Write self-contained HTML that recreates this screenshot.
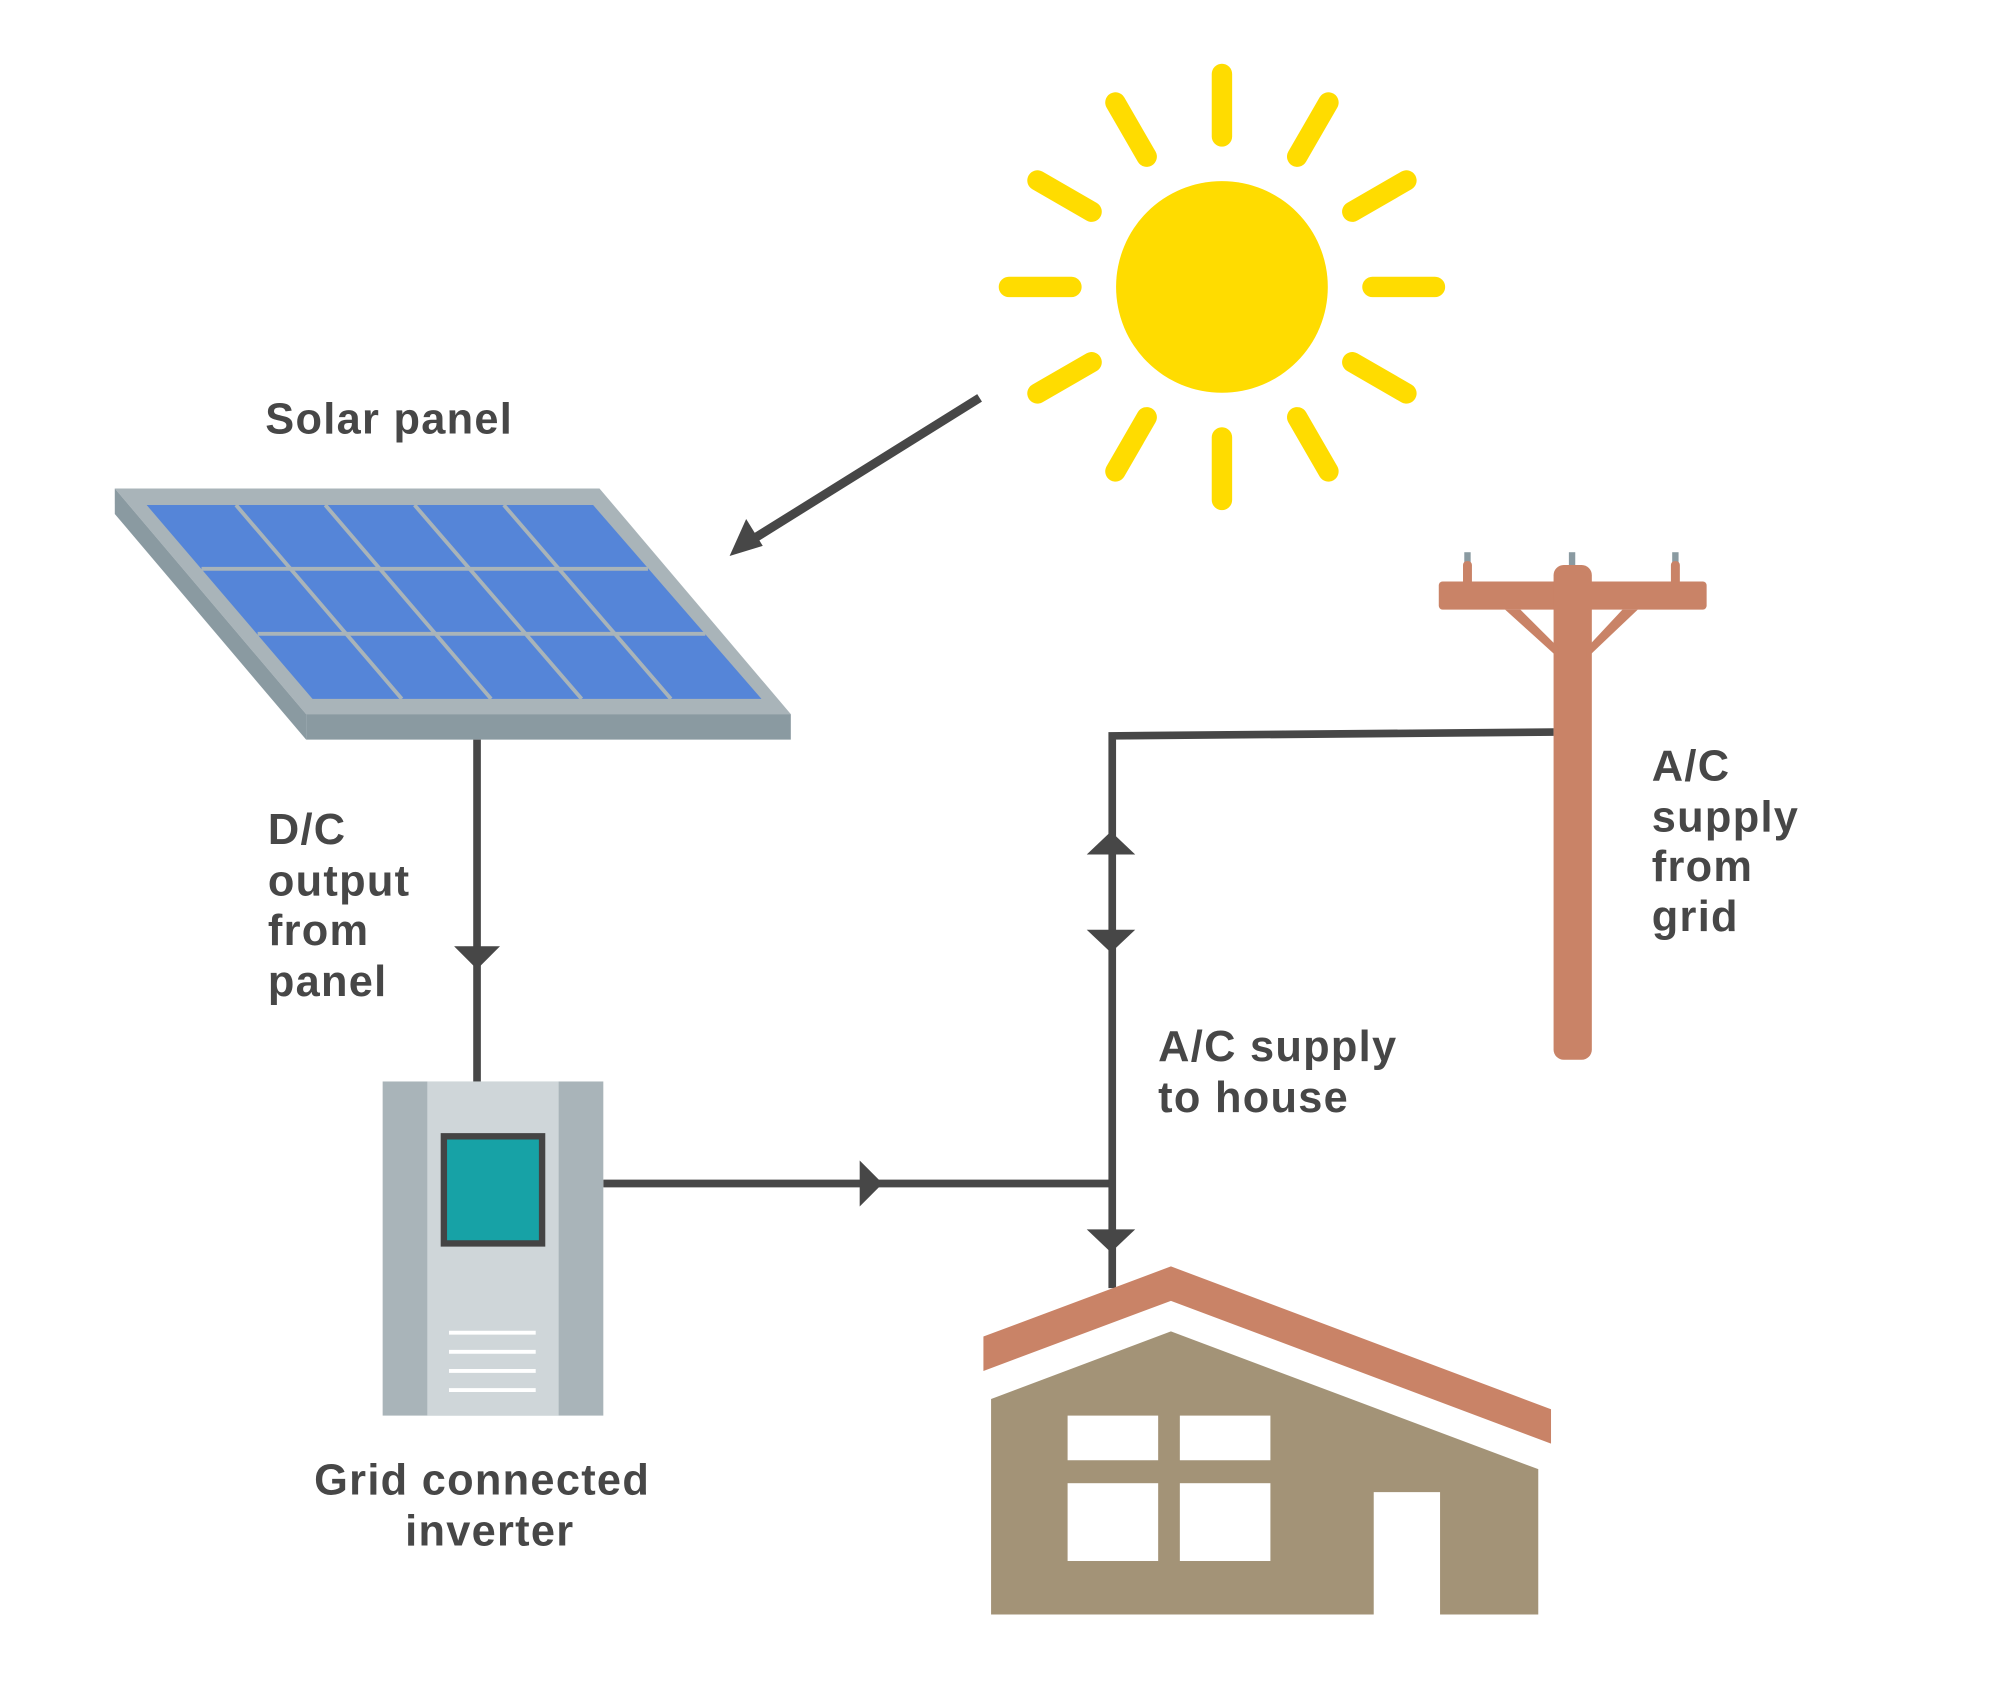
<!DOCTYPE html>
<html><head><meta charset="utf-8"><style>html,body{margin:0;padding:0;background:#fff}svg{display:block}</style></head>
<body>
<svg width="2000" height="1700" viewBox="0 0 1568 1333" preserveAspectRatio="none" xmlns="http://www.w3.org/2000/svg">
<rect width="1568" height="1333" fill="#fff"/>
<g stroke="#FFDC00" stroke-width="16" stroke-linecap="round">
<g transform="translate(958,225)">
<line x1="0" y1="-118" x2="0" y2="-167"/>
<line x1="0" y1="-118" x2="0" y2="-167" transform="rotate(30)"/>
<line x1="0" y1="-118" x2="0" y2="-167" transform="rotate(60)"/>
<line x1="0" y1="-118" x2="0" y2="-167" transform="rotate(90)"/>
<line x1="0" y1="-118" x2="0" y2="-167" transform="rotate(120)"/>
<line x1="0" y1="-118" x2="0" y2="-167" transform="rotate(150)"/>
<line x1="0" y1="-118" x2="0" y2="-167" transform="rotate(180)"/>
<line x1="0" y1="-118" x2="0" y2="-167" transform="rotate(210)"/>
<line x1="0" y1="-118" x2="0" y2="-167" transform="rotate(240)"/>
<line x1="0" y1="-118" x2="0" y2="-167" transform="rotate(270)"/>
<line x1="0" y1="-118" x2="0" y2="-167" transform="rotate(300)"/>
<line x1="0" y1="-118" x2="0" y2="-167" transform="rotate(330)"/>
</g></g>
<circle cx="958" cy="225" r="83" fill="#FFDC00"/>
<line x1="768" y1="312" x2="590" y2="423" stroke="#474747" stroke-width="7"/>
<polygon points="572,436 585,407 598,428" fill="#474747"/>
<g font-family="Liberation Sans, sans-serif" font-weight="bold" font-size="34" letter-spacing="1" fill="#474747">
<text x="208" y="340">Solar panel</text>
<text x="210" y="662">D/C</text><text x="210" y="702">output</text><text x="210" y="741">from</text><text x="210" y="781">panel</text>
<text x="378" y="1172" text-anchor="middle">Grid connected</text>
<text x="384" y="1212" text-anchor="middle">inverter</text>
<text x="908" y="832">A/C supply</text><text x="908" y="872">to house</text>
<text x="1295" y="612">A/C</text><text x="1295" y="652">supply</text><text x="1295" y="691">from</text><text x="1295" y="730">grid</text>
</g>
<polygon points="90,383 470,383 620,560 240,560" fill="#a9b4b9"/>
<polygon points="240,560 620,560 620,580 240,580" fill="#8a9aa1"/>
<polygon points="90,383 90,403 240,580 240,560" fill="#8a9aa1"/>
<polygon points="115,396 465,396 597,548 245,548" fill="#5585d8"/>
<g stroke="#a9b4b9" stroke-width="3">
<line x1="158" y1="446" x2="508" y2="446"/>
<line x1="202" y1="497" x2="553" y2="497"/>
<line x1="185" y1="396" x2="315" y2="548"/>
<line x1="255" y1="396" x2="385" y2="548"/>
<line x1="325" y1="396" x2="456" y2="548"/>
<line x1="395" y1="396" x2="526" y2="548"/>
</g>
<g stroke="#474747" stroke-width="6" fill="none">
<line x1="374" y1="580" x2="374" y2="848"/>
<line x1="473" y1="928" x2="872" y2="928"/>
<polyline points="872,1010 872,577 1218,574"/>
</g>
<g fill="#474747">
<polygon points="356,742 392,742 374,760"/>
<polygon points="674,910 674,946 692,928"/>
<polygon points="852,670 890,670 871,652"/>
<polygon points="852,729 890,729 871,747"/>
<polygon points="852,964 890,964 871,982"/>
</g>
<rect x="300" y="848" width="173" height="262" fill="#a9b4b9"/>
<rect x="335" y="848" width="103" height="262" fill="#cfd6d9"/>
<rect x="348" y="891" width="77" height="84" fill="#17a2a6" stroke="#444" stroke-width="5"/>
<g stroke="#fff" stroke-width="3"><line x1="352" y1="1045" x2="420" y2="1045"/><line x1="352" y1="1060" x2="420" y2="1060"/><line x1="352" y1="1075" x2="420" y2="1075"/><line x1="352" y1="1090" x2="420" y2="1090"/></g>
<g fill="#8a9aa1"><rect x="1148" y="433" width="5" height="12"/><rect x="1230" y="433" width="5" height="12"/><rect x="1311" y="433" width="5" height="12"/></g>
<g fill="#c98367">
<rect x="1147" y="440" width="7" height="20" rx="3"/><rect x="1310" y="440" width="7" height="20" rx="3"/>
<rect x="1128" y="456" width="210" height="22" rx="3"/>
<rect x="1218" y="443" width="30" height="388" rx="8"/>
<polygon points="1180,478 1192,478 1222,508 1222,516"/>
<polygon points="1284,478 1272,478 1244,508 1244,516"/>
<polygon points="771,1048 918,993 1216,1105 1216,1132 918,1020 771,1075"/>
</g>
<polygon points="777,1097 918,1044 1206,1152 1206,1266 777,1266" fill="#a39377"/>
<g fill="#fff">
<rect x="1077" y="1170" width="52" height="96"/>
<rect x="837" y="1110" width="71" height="35"/><rect x="925" y="1110" width="71" height="35"/>
<rect x="837" y="1163" width="71" height="61"/><rect x="925" y="1163" width="71" height="61"/>
</g>
</svg>
</body></html>
